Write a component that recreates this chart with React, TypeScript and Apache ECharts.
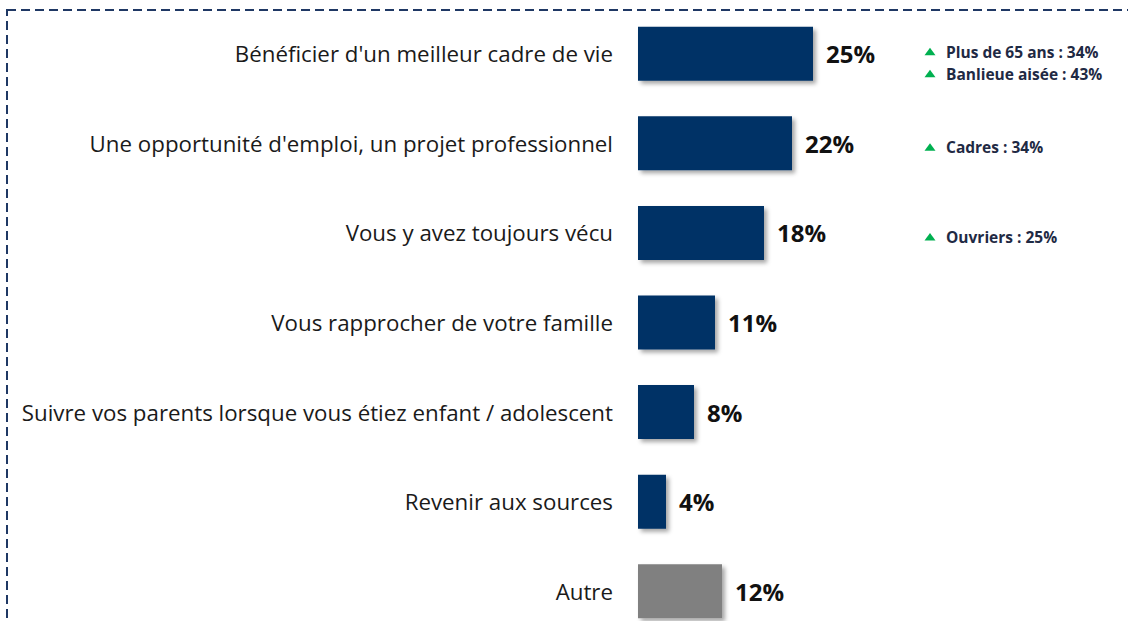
import React, { useEffect, useRef } from "react";
import * as echarts from "echarts";

const categories = [
  "Bénéficier d'un meilleur cadre de vie",
  "Une opportunité d'emploi, un projet professionnel",
  "Vous y avez toujours vécu",
  "Vous rapprocher de votre famille",
  "Suivre vos parents lorsque vous étiez enfant / adolescent",
  "Revenir aux sources",
  "Autre",
];
const values = [25, 22, 18, 11, 8, 4, 12];
const isOther = [false, false, false, false, false, false, true];
const annotations: string[][] = [
  ["Plus de 65 ans : 34%", "Banlieue aisée : 43%"],
  ["Cadres : 34%"],
  ["Ouvriers : 25%"],
  [],
  [],
  [],
  [],
];

const FONT = "'Open Sans', sans-serif";

export default function App() {
  const ref = useRef<HTMLDivElement>(null);
  useEffect(() => {
    document.body.style.margin = "0";
    const chart = echarts.init(ref.current!, null, { renderer: "svg" });
    chart.setOption({
      animation: false,
      backgroundColor: "#ffffff",
      grid: { left: 638, top: 9, width: 490, height: 627 },
      xAxis: { type: "value", min: 0, max: 70, show: false },
      yAxis: {
        type: "category",
        data: categories,
        inverse: true,
        axisLine: { show: false },
        axisTick: { show: false },
        axisLabel: {
          margin: 25,
          fontFamily: FONT,
          fontSize: 22.3,
          color: "#1a1a1a",
        },
      },
      series: [
        {
          type: "bar",
          barWidth: 54,
          data: values.map((v, i) => ({
            value: v,
            itemStyle: { color: isOther[i] ? "#808080" : "#003366" },
          })),
          itemStyle: {
            shadowBlur: 4,
            shadowOffsetX: 3,
            shadowOffsetY: 3,
            shadowColor: "rgba(0,0,0,0.35)",
          },
          label: {
            show: true,
            position: "right",
            distance: 13,
            formatter: "{c}%",
            fontFamily: FONT,
            fontWeight: "bold",
            fontSize: 24,
            color: "#111111",
          },
        },
      ],
    });
    const elements: any[] = [
      {
        type: "rect",
        shape: { x: 7, y: 10, width: 1200, height: 700 },
        style: { fill: "none", stroke: "#1f3864", lineWidth: 2, lineDash: [9, 5] },
        silent: true,
      },
    ];
    annotations.forEach((lines, i) => {
      const cy = chart.convertToPixel({ yAxisIndex: 0 }, i) as number;
      const n = lines.length;
      lines.forEach((t, j) => {
        const y = n === 1 ? cy + 4 : cy - 2 + j * 22;
        elements.push({
          type: "polygon",
          shape: {
            points: [
              [924.5, y + 3.5],
              [935.5, y + 3.5],
              [930, y - 4],
            ],
          },
          style: { fill: "#00b050" },
          silent: true,
        });
        elements.push({
          type: "text",
          x: 946,
          y,
          style: {
            text: t,
            fill: "#1f2a44",
            font: `bold 15.5px ${FONT}`,
            textVerticalAlign: "middle",
          },
        });
      });
    });
    chart.setOption({ graphic: elements });
    return () => chart.dispose();
  }, []);
  return (
    <div style={{ position: "absolute", left: 0, top: 0, width: 1128, height: 621, overflow: "hidden" }}>
      <div ref={ref} style={{ width: 1128, height: 642 }} />
    </div>
  );
}
